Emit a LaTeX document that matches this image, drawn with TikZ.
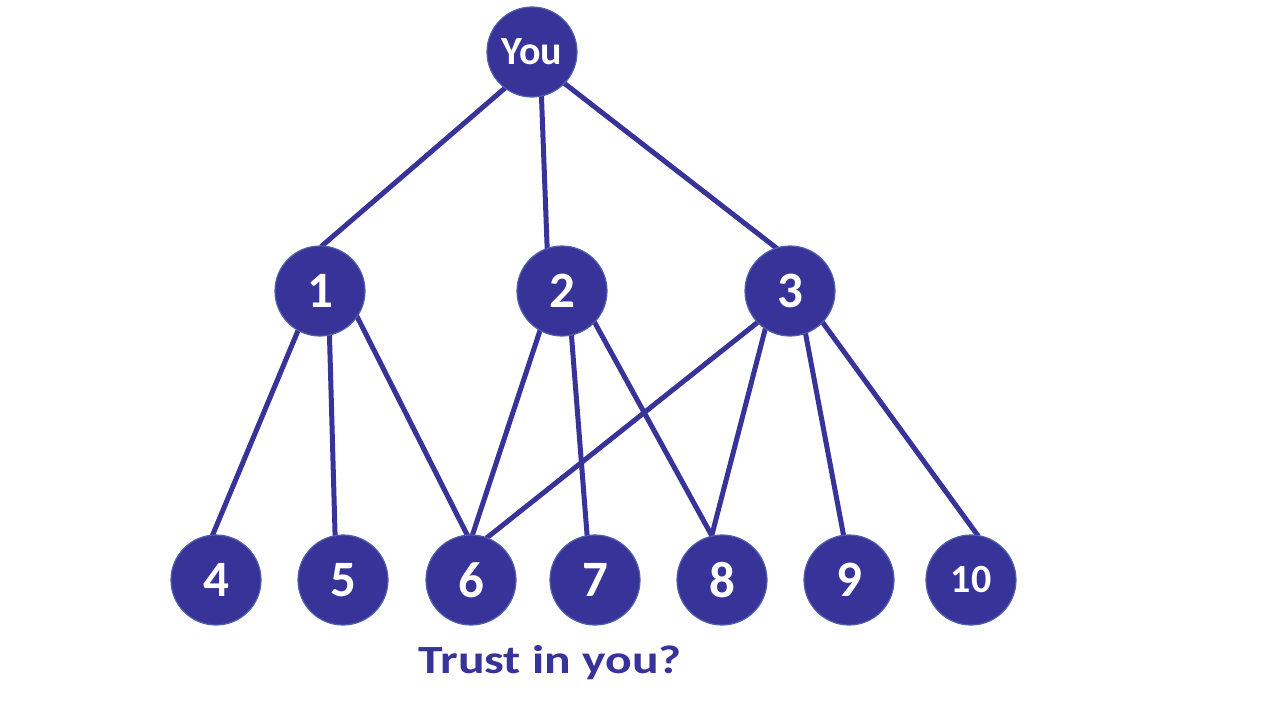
\documentclass[tikz,border=0pt]{standalone}
\usepackage{fontspec}
\setmainfont{Carlito}
\usetikzlibrary{backgrounds}
\definecolor{nodeblue}{RGB}{56,51,153}
\definecolor{rimblue}{RGB}{78,96,172}
\tikzset{
  person/.style={circle, fill=nodeblue, draw=rimblue, line width=1.2pt, minimum size=90pt, inner sep=0pt, text=white, font=\fontsize{51}{51}\selectfont\bfseries},
  smallperson/.style={person, font=\fontsize{40}{40}\selectfont\bfseries},
  link/.style={draw=nodeblue, line width=5pt, shorten <=-1.5pt, shorten >=-1.5pt}
}
\begin{document}
\begin{tikzpicture}[x=1pt,y=-1pt]
\path[use as bounding box] (0,0) rectangle (1280,720);
\node[smallperson] (you) at (532,52) {You};
\node[person] (n1) at (320,291) {1};
\node[person] (n2) at (562,291) {2};
\node[person] (n3) at (790,291) {3};
\node[person] (n4) at (216,580) {4};
\node[person] (n5) at (343,580) {5};
\node[person] (n6) at (471,580) {6};
\node[person] (n7) at (595,580) {7};
\node[person] (n8) at (722,580) {8};
\node[person] (n9) at (849,580) {9};
\node[smallperson] (n10) at (971,580) {10};
\node[anchor=base, text=nodeblue, inner sep=0pt, font=\fontsize{40}{40}\selectfont\bfseries] (q) at (550,673) {\scalebox{1.24}[1]{Trust in you?}};
\begin{scope}[on background layer]
\path[link] (you.233.1) -- (n1.87.2);
\path[link] (you.282.5) -- (n2.109.2);
\path[link] (you.316.8) -- (n3.108.9);
\path[link] (n1.241.8) -- (n4.94.1);
\path[link] (n1.282.8) -- (n5.100.5);
\path[link] (n1.325.6) -- (n6.95.2);
\path[link] (n2.241.8) -- (n6.88.7);
\path[link] (n2.282.5) -- (n7.100.8);
\path[link] (n2.316.8) -- (n8.103.1);
\path[link] (n3.224.1) -- (n6.69.1);
\path[link] (n3.237.3) -- (n8.103.1);
\path[link] (n3.290.1) -- (n9.97.9);
\path[link] (n3.316.8) -- (n10.82.1);
\end{scope}
\end{tikzpicture}
\end{document}
